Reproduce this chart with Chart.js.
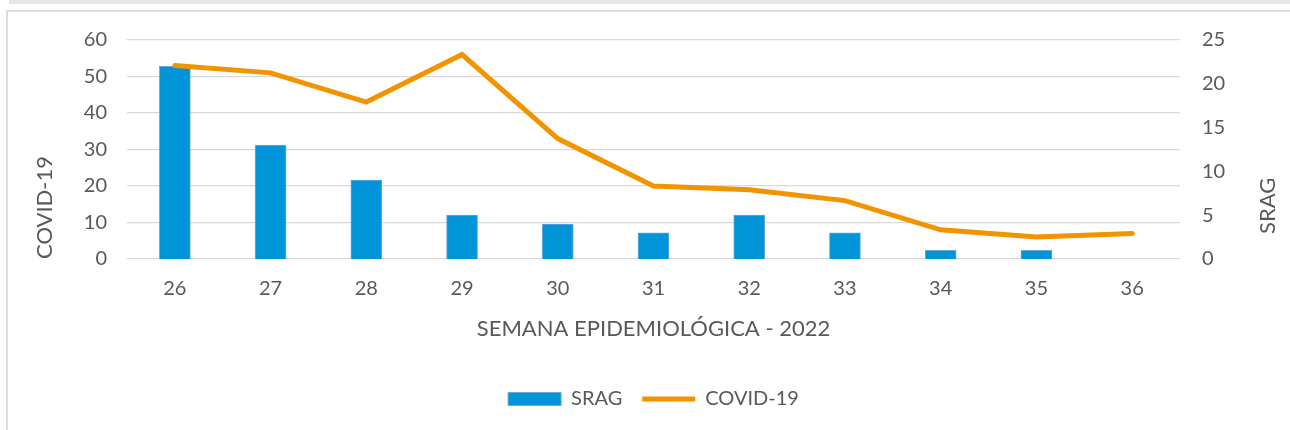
<!DOCTYPE html>
<html lang="pt-BR">
<head>
<meta charset="utf-8">
<title>SRAG x COVID-19</title>
<script src="https://cdn.jsdelivr.net/npm/chart.js@4.4.1/dist/chart.umd.min.js"></script>
<style>
  html, body { margin: 0; padding: 0; background: #fff; }
  body { width: 1290px; height: 430px; position: relative; overflow: hidden; }
  .faixa { position: absolute; left: 9px; top: 0; width: 1290px; height: 4px; background: #e6e6e6; }
  .moldura { position: absolute; left: 6px; top: 10px; width: 1300px; height: 440px; border: 2px solid #dedede; }
  #grafico { position: absolute; left: 0; top: 0; }
</style>
</head>
<body>
<div class="faixa"></div>
<div class="moldura"></div>
<canvas id="grafico" width="1290" height="430"></canvas>
<script>
/* dados */
const semanas = ['26', '27', '28', '29', '30', '31', '32', '33', '34', '35', '36']
const srag = [22, 13, 9, 5, 4, 3, 5, 3, 1, 1, 0] // barras, eixo direito
const covid = [53, 51, 43, 56, 33, 20, 19, 16, 8, 6, 7] // linha, eixo esquerdo
const ticksCovid = [0, 10, 20, 30, 40, 50, 60]
const ticksSrag = [0, 5, 10, 15, 20, 25]

const cinzaTexto = '#595959'
Chart.defaults.font.family = 'Lato, "Open Sans", sans-serif'
Chart.defaults.color = cinzaTexto

// titulo do eixo direito (lido de baixo para cima, como no Excel)
const tituloDireito = {
  id: 'tituloDireito',
  afterDraw(chart) {
    const { ctx, chartArea } = chart
    const eixo = chart.scales.ySrag
    ctx.save()
    ctx.translate(eixo.right - 22, chartArea.bottom - 25)
    ctx.rotate(-Math.PI / 2)
    ctx.font = '22px Lato, "Open Sans", sans-serif'
    ctx.fillStyle = cinzaTexto
    ctx.textAlign = 'left'
    ctx.textBaseline = 'middle'
    ctx.fillText('SRAG', 0, 0)
    ctx.restore()
  },
}

const ctx = document.getElementById('grafico').getContext('2d')
new Chart(ctx, {
  type: 'bar',
  data: {
    labels: semanas,
    datasets: [
      {
        type: 'bar',
        label: 'SRAG',
        data: srag,
        yAxisID: 'ySrag',
        backgroundColor: '#0094D9',
        borderColor: '#6AA8DD',
        borderWidth: 1,
        barThickness: 31,
        pointStyle: 'rect',
        order: 2,
      },
      {
        type: 'line',
        label: 'COVID-19',
        data: covid,
        yAxisID: 'yCovid',
        borderColor: '#F29400',
        backgroundColor: '#F29400',
        borderWidth: 5,
        borderCapStyle: 'round',
        pointRadius: 0,
        pointStyle: 'line',
        tension: 0,
        order: 1,
      },
    ],
  },
  options: {
    responsive: false,
    animation: false,
    devicePixelRatio: 1,
    layout: { padding: { top: 40, bottom: 11, left: 0, right: 0 } },
    scales: {
      x: {
        grid: { display: false, drawTicks: false },
        border: { display: false },
        ticks: { font: { size: 20 }, padding: 18, color: cinzaTexto },
        title: {
          display: true,
          text: 'SEMANA EPIDEMIOLÓGICA - 2022',
          font: { size: 22 },
          color: cinzaTexto,
          padding: { top: 0, bottom: 27 },
        },
        afterFit(scale) { scale.height = 110 },
      },
      yCovid: {
        position: 'left',
        min: ticksCovid[0],
        max: ticksCovid[ticksCovid.length - 1],
        grid: { color: '#d9d9d9', lineWidth: 1.3, drawTicks: false },
        border: { display: false },
        ticks: { stepSize: ticksCovid[1] - ticksCovid[0], font: { size: 20 }, padding: 20, color: cinzaTexto },
        title: {
          display: true,
          text: 'COVID-19',
          align: 'start',
          font: { size: 22 },
          color: cinzaTexto,
          padding: { top: 32, bottom: 0 },
        },
        afterFit(scale) { scale.width = 127 },
      },
      ySrag: {
        position: 'right',
        min: ticksSrag[0],
        max: ticksSrag[ticksSrag.length - 1],
        grid: { display: false, drawTicks: false },
        border: { display: false },
        ticks: { stepSize: ticksSrag[1] - ticksSrag[0], font: { size: 20 }, padding: 22, color: cinzaTexto },
        afterFit(scale) { scale.width = 110 },
      },
    },
    plugins: {
      legend: {
        position: 'bottom',
        fullSize: false,
        labels: {
          usePointStyle: true,
          pointStyleWidth: 53,
          boxHeight: 13,
          padding: 20,
          font: { size: 20 },
          color: cinzaTexto,
          sort: (a, b) => a.datasetIndex - b.datasetIndex,
        },
      },
      tooltip: { enabled: false },
    },
  },
  plugins: [tituloDireito],
})
</script>
</body>
</html>
